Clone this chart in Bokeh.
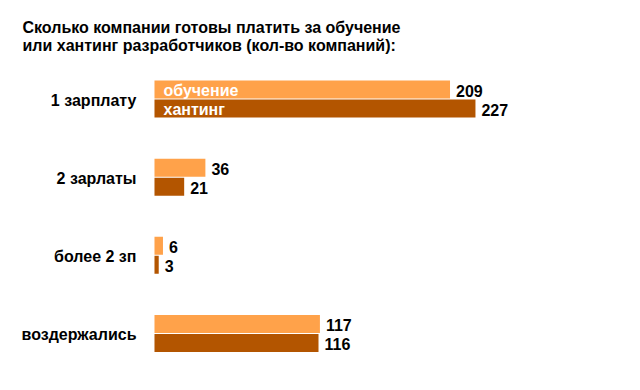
from bokeh.plotting import figure
from bokeh.models import Range1d, ColumnDataSource, Label
from bokeh.core.properties import value
from bokeh.embed import file_html
from bokeh.resources import INLINE

categories = ["1 зарплату", "2 зарлаты", "более 2 зп", "воздержались"]
series_names = ["обучение", "хантинг"]
training = [209, 36, 6, 117]
hunting = [227, 21, 3, 116]
colors = ["#FFA24A", "#B35500"]
title_lines = ["Сколько компании готовы платить за обучение",
               "или хантинг разработчиков (кол-во компаний):"]

FONT = "Liberation Sans"
W, H = 624, 374

p = figure(width=W, height=H, output_backend="svg", toolbar_location=None,
           x_range=Range1d(-108.9, 332.4), y_range=Range1d(3.526, -1.2625),
           min_border=0, outline_line_color=None)
p.axis.visible = False
p.grid.visible = False
p.background_fill_color = "white"

idx = list(range(len(categories)))
off = 0.1216
bh = 0.2305
y1 = [i - off for i in idx]
y2 = [i + off for i in idx]

src1 = ColumnDataSource(dict(y=y1, v=training, t=[str(v) for v in training]))
src2 = ColumnDataSource(dict(y=y2, v=hunting, t=[str(v) for v in hunting]))

p.hbar(y="y", left=0, right="v", height=bh, source=src1, fill_color=colors[0], line_color=None)
p.hbar(y="y", left=0, right="v", height=bh, source=src2, fill_color=colors[1], line_color=None)

for src in (src1, src2):
    p.text(x="v", y="y", text="t", source=src, x_offset=6, y_offset=1,
           text_font=value(FONT), text_font_style="bold", text_font_size="16px",
           text_color="black", text_baseline="middle", text_align="left")

# series labels inside the first pair of bars
p.text(x=[0, 0], y=[y1[0], y2[0]], text=series_names, x_offset=9, y_offset=1,
       text_font=value(FONT), text_font_style="bold", text_font_size="16px",
       text_color="white", text_baseline="middle", text_align="left")

# category labels
p.text(x=[0] * len(categories), y=idx, text=categories, x_offset=-18, y_offset=1,
       text_font=value(FONT), text_font_style="bold", text_font_size="16px",
       text_color="black", text_baseline="middle", text_align="right")

for k, line in enumerate(title_lines):
    p.add_layout(Label(x=22, y=H - 27 - 18 * k, x_units="screen", y_units="screen",
                       text=line, text_font=FONT, text_font_style="bold",
                       text_font_size="16px", text_color="black",
                       text_baseline="alphabetic"))

open("out.html", "w").write(file_html(p, INLINE))
